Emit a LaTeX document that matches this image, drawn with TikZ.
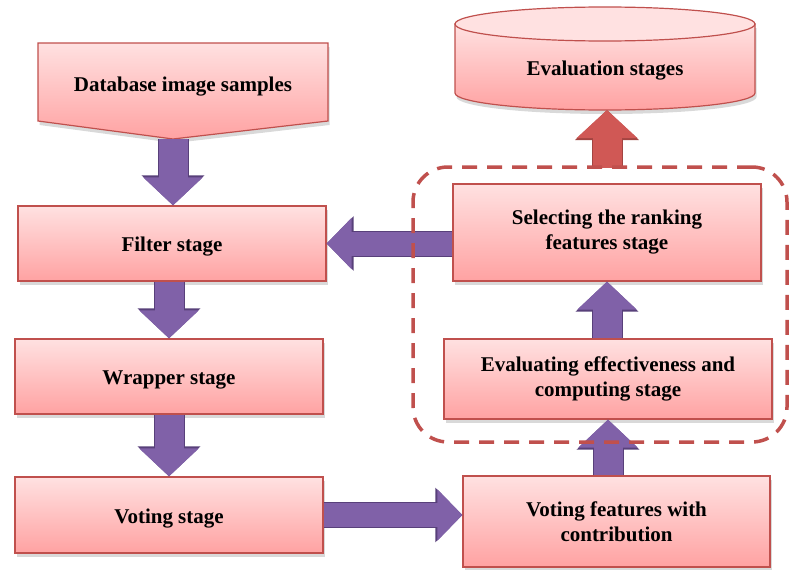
\documentclass[tikz,border=0pt]{standalone}
\usepackage{fontspec}
\setmainfont{Liberation Serif}
\usetikzlibrary{arrows.meta,shadows}
\definecolor{boxred}{RGB}{192,80,77}
\definecolor{pinktop}{RGB}{255,225,225}
\definecolor{pinkbot}{RGB}{255,162,162}
\definecolor{arrowpurple}{RGB}{128,97,168}
\definecolor{arrowdark}{RGB}{88,64,122}
\definecolor{arrowred}{RGB}{208,88,85}

\begin{document}
\begin{tikzpicture}[
  stage/.style={rectangle,draw=boxred,line width=1.2bp,top color=pinktop,bottom color=pinkbot,
    drop shadow={shadow xshift=1.5bp,shadow yshift=-4bp,opacity=0.3},
    inner sep=0pt,align=center,font=\bfseries\fontsize{21bp}{25bp}\selectfont},
  oneline/.style={text height=16bp,text depth=0bp},
  txt/.style={inner sep=0pt,align=center,font=\bfseries\fontsize{21bp}{25bp}\selectfont},
  fatv/.style={line width=29bp,arrowpurple,-{Triangle[length=28bp,width=58bp]},
    preaction={draw=arrowdark,line width=31bp,-{Triangle[length=30bp,width=61bp]}}},
  fath/.style={line width=24bp,arrowpurple,-{Triangle[length=25bp,width=50bp]},
    preaction={draw=arrowdark,line width=26bp,-{Triangle[length=27bp,width=53bp]}}},
  redup/.style={line width=29bp,arrowred,-{Triangle[length=28bp,width=59bp]},
    preaction={draw=boxred!85!black,line width=31bp,-{Triangle[length=30bp,width=62bp]}}},
  group/.style={rectangle,draw=boxred,line width=3.5bp,dash pattern=on 15bp off 10bp,
    rounded corners=35bp,inner sep=0pt}
]
\useasboundingbox (0bp,0bp) rectangle (790bp,-570bp);

% database samples and evaluation store
\path[draw=boxred,line width=1.2bp,top color=pinktop,bottom color=pinkbot,
  drop shadow={shadow xshift=1.5bp,shadow yshift=-4bp,opacity=0.3}]
  (38bp,-43bp) -- (328bp,-43bp) -- (328bp,-121bp) -- (173bp,-139bp) coordinate (dbtip)
  -- (38bp,-121bp) -- cycle;
\node (db) at (183bp,-87bp)[txt] {Database image samples};

\path[draw=boxred,line width=1.2bp,top color=pinktop,bottom color=pinkbot,
  drop shadow={shadow xshift=1.5bp,shadow yshift=-4bp,opacity=0.3}]
  (455bp,-24bp) -- (455bp,-93bp) arc[start angle=180,end angle=360,x radius=150bp,y radius=17bp]
  -- (755bp,-24bp) -- cycle;
\draw[draw=boxred,line width=1.2bp,fill=pinktop] (605bp,-24bp) ellipse[x radius=150bp,y radius=17bp];
\node (evs) at (605bp,-71bp)[txt] {Evaluation stages};
\coordinate (evsbot) at (607bp,-110bp);
\coordinate (grptop) at (607bp,-168bp);

% left column
\node (filter) at (172bp,-243.5bp)[stage,oneline,minimum width=308bp,minimum height=75bp] {Filter stage};
\node (wrapper) at (169bp,-376.5bp)[stage,oneline,minimum width=308bp,minimum height=75bp] {Wrapper stage};
\node (voting) at (169bp,-515bp)[stage,oneline,minimum width=308bp,minimum height=76bp] {Voting stage};

% right column
\node (sel) at (607bp,-232.5bp)[stage,minimum width=308bp,minimum height=97bp] {Selecting the ranking\\features stage};
\node (evc) at (608bp,-379bp)[stage,minimum width=328bp,minimum height=80bp] {Evaluating effectiveness and\\computing stage};
\node (vfc) at (616.5bp,-521.5bp)[stage,minimum width=307bp,minimum height=91bp] {Voting features with\\contribution};

\draw [fatv] (dbtip) -- (filter.north -| dbtip);
\draw [fatv] (wrapper.north |- filter.south) -- (wrapper.north);
\draw [fatv] (wrapper.south) -- (voting.north);
\draw [fath] (voting.east) -- (voting.east -| vfc.west);
\draw [fatv] (evc.south |- vfc.north) -- (evc.south);
\draw [fatv] (sel.south |- evc.north) -- (sel.south);
\draw [fath] (filter.east -| sel.west) -- (filter.east);
\draw [redup] (grptop) -- (evsbot);

\node (grp) at (600bp,-304.5bp)[group,minimum width=374bp,minimum height=275bp] {};
\end{tikzpicture}
\end{document}
